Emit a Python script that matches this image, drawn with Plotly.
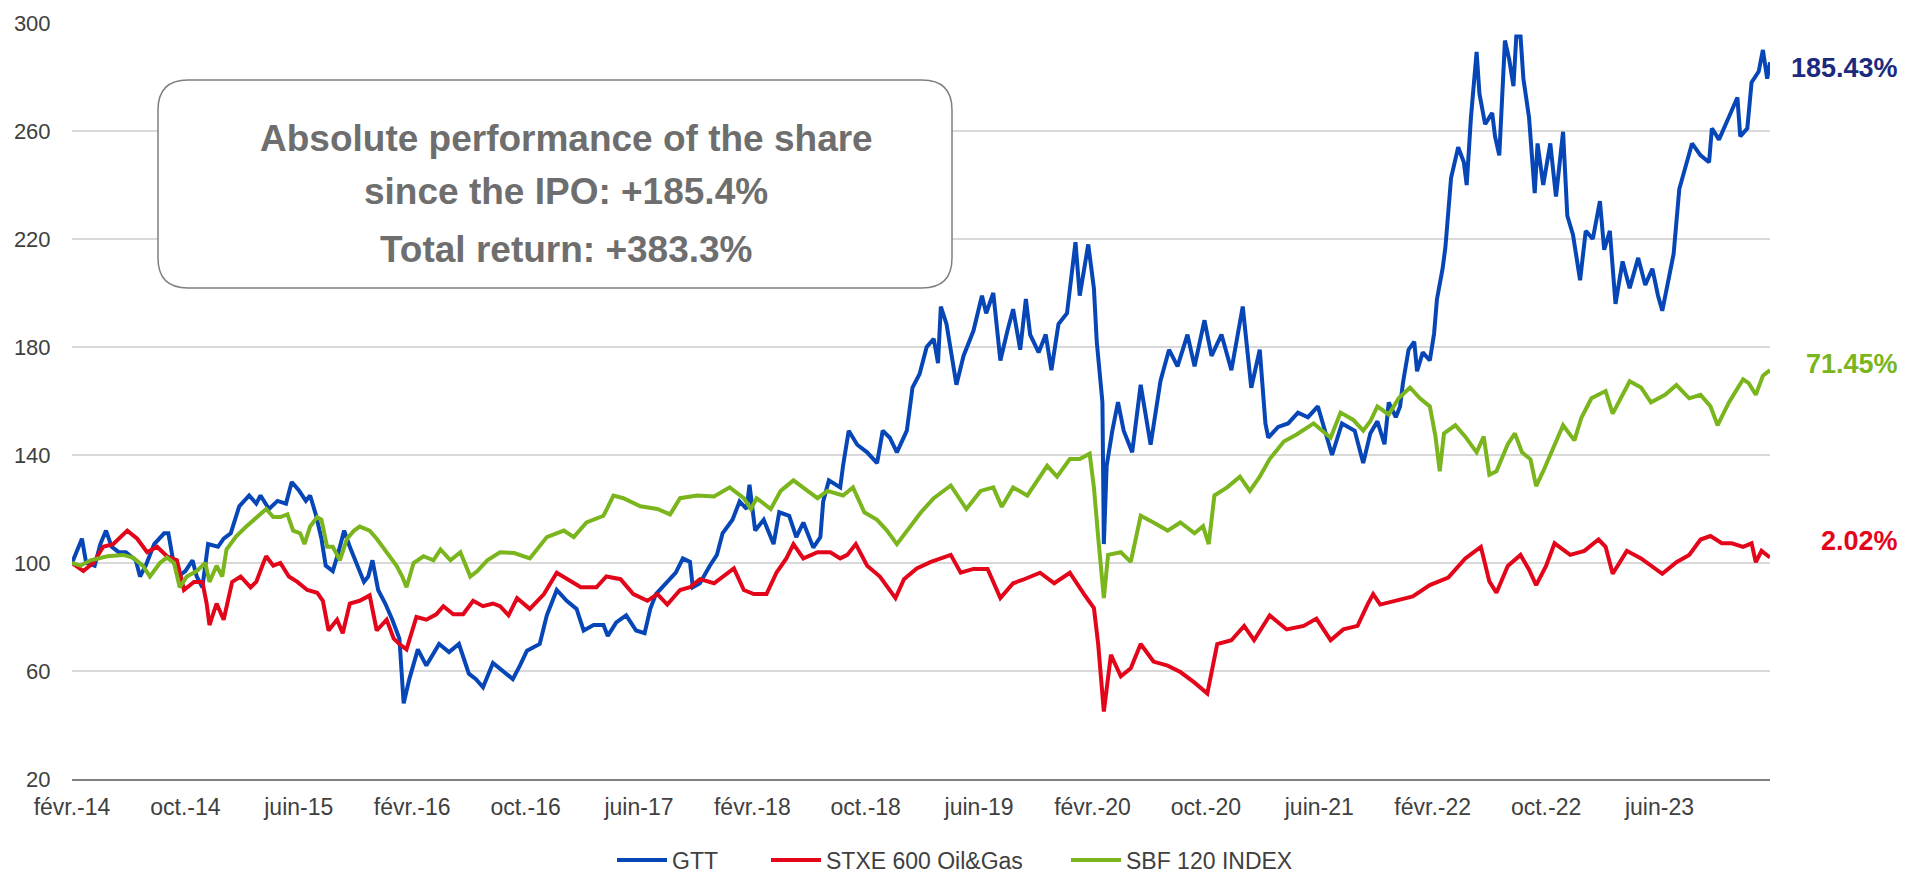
import plotly.graph_objects as go

# ---- axis ticks (months since IPO, 27 Feb 2014) ----
tick_months = [0, 8, 16, 24, 32, 40, 48, 56, 64, 72, 80, 88, 96, 104, 112]
tick_labels = ["févr.-14", "oct.-14", "juin-15", "févr.-16", "oct.-16", "juin-17",
               "févr.-18", "oct.-18", "juin-19", "févr.-20", "oct.-20", "juin-21",
               "févr.-22", "oct.-22", "juin-23"]

# ---- GTT (base 100) ----
gtt_m = [0, 0.7, 1.0, 1.6, 2.0, 2.4, 2.8, 3.3, 3.8, 4.5, 4.8, 5.2, 5.8, 6.5, 6.8, 7.1, 7.5, 8.0,
         8.5, 8.8, 9.2, 9.6, 10.3, 10.7, 11.2, 11.8, 12.5, 13.0, 13.3, 13.9, 14.5, 15.1, 15.5,
         16.0, 16.5, 16.8, 17.2, 17.6, 17.9, 18.4, 18.8, 19.2, 19.6, 20.1, 20.6, 20.9, 21.2,
         21.6, 22.1, 22.6, 23.1, 23.4, 23.8, 24.4, 25.0, 25.9, 26.6, 27.3, 28.0, 28.5, 29.0,
         29.7, 30.2, 31.1, 31.6, 32.1, 33.0, 33.5, 34.2, 34.9, 35.6, 36.1, 36.8, 37.5, 37.8,
         38.4, 39.1, 39.8, 40.4, 40.8, 41.2, 41.9, 42.6, 43.1, 43.6, 43.8, 44.3, 45.0, 45.5,
         45.9, 46.6, 47.1, 47.6, 47.8, 48.2, 48.8, 49.5, 49.9, 50.6, 51.1, 51.6, 52.3, 52.8,
         53.0, 53.4, 54.2, 54.4, 54.8, 55.4, 56.1, 56.8, 57.2, 57.7, 58.2, 58.9, 59.3, 59.8,
         60.3, 60.8, 61.1, 61.3, 61.7, 62.2, 62.4, 62.9, 63.6, 64.2, 64.5, 65.0, 65.5, 66.0,
         66.4, 66.9, 67.3, 67.6, 68.2, 68.7, 69.1, 69.6, 70.2, 70.8, 71.1, 71.7, 72.1, 72.3,
         72.7, 72.8, 73.0, 73.4, 73.8, 74.2, 74.8, 75.4, 76.1, 76.8, 77.4, 78.0, 78.7, 79.2,
         79.9, 80.4, 81.1, 81.8, 82.6, 83.2, 83.8, 84.2, 84.4, 85.1, 85.8, 86.5, 87.2, 87.9,
         88.9, 89.6, 90.5, 91.1, 91.6, 92.1, 92.6, 92.9, 93.4, 93.7, 93.9, 94.3, 94.7, 94.9,
         95.3, 95.8, 96.1, 96.3, 96.7, 96.9, 97.3, 97.8, 98.2, 98.4, 98.7, 99.1, 99.3, 99.7,
         100.2, 100.4, 100.7, 101.1, 101.4, 101.7, 101.9, 102.2, 102.4, 102.8, 103.2, 103.4,
         103.8, 104.3, 104.7, 105.2, 105.5, 105.9, 106.4, 106.8, 107.3, 107.8, 108.1, 108.5,
         108.9, 109.4, 109.9, 110.5, 111.0, 111.5, 111.9, 112.2, 112.6, 113.0, 113.4, 113.7,
         114.3, 114.9, 115.5, 115.7, 116.2, 116.8, 117.5, 117.7, 118.2, 118.5, 119.0, 119.3,
         119.6, 119.8]
gtt_v = [100, 109, 100, 99, 107, 112, 106, 104, 104, 101, 95, 99, 107, 111, 111, 102, 95, 97,
         101, 95, 91, 107, 106, 109, 111, 121, 125, 122, 125, 120, 123, 122, 130,
         127, 123, 125, 118, 109, 99, 97, 104, 112, 106, 99, 93, 95, 101,
         90, 85, 79, 72, 48, 57, 68, 62, 70, 67, 70, 59, 57, 54,
         63, 61, 57, 62, 67.5, 70, 80.6, 90, 86, 83, 75, 77, 77, 73,
         78, 80.6, 75, 74, 83, 88.5, 92.5, 96.4, 101.7, 100.4, 91, 92.5, 99, 103,
         111, 116, 122.8, 120, 129, 112, 116, 107, 118.8, 117.5, 109.6, 115, 105.7, 109.6,
         122.8, 130.6, 128, 136, 149, 143.8, 141, 137, 149, 146.4, 141, 149, 165, 170,
         180, 183, 174, 195, 188.5, 172.8, 166, 176.7, 186, 199, 192.5, 200, 175, 186,
         194, 179, 197.8, 184.6, 178, 184.6, 171.4, 188.5, 192.5, 218.8, 199, 218, 201.7, 182,
         159.6, 107, 136, 149, 159.6, 149, 141, 166, 143.8, 167.5, 179, 172.8, 184.6, 172.8,
         189.9, 176.7, 184.6, 171.4, 195, 164.9, 179, 151.7, 146.4, 150.4, 151.7, 155.7, 154, 158,
         140, 151.7, 149, 137, 148, 152.5, 144, 159.5, 154, 158, 166.6, 179, 182, 171,
         178, 175, 185, 197.6, 209, 217, 242.7, 254, 248.4, 240, 265, 289.3, 273.8, 262.5,
         266.7, 258, 251, 293.5, 286.5, 276.6, 295, 295, 279.4, 265, 237, 255.4,
         240, 255.4, 235.7, 259.7, 228.6, 221.6, 204.7, 223, 220, 234, 216, 223,
         196, 211.7, 201.8, 213, 203, 209, 199, 193.4, 204.7, 214.5, 238.5, 244,
         255.4, 251, 248.4, 261, 256.8, 264, 272.4, 258, 261, 278, 282, 290,
         279.4, 285.43]

# ---- STXE 600 Oil&Gas (base 100) ----
stxe_m = [0, 0.8, 1.5, 2.2, 2.9, 3.9, 4.6, 5.3, 6.0, 6.7, 7.4, 7.9, 8.6, 9.2, 9.5, 9.7, 10.2,
          10.7, 11.3, 11.9, 12.6, 13.0, 13.5, 13.7, 14.2, 14.7, 15.3, 15.9, 16.6, 17.3, 17.7,
          18.1, 18.7, 19.1, 19.6, 20.3, 21.0, 21.5, 22.2, 22.7, 23.1, 23.6, 24.3, 25.0, 25.7,
          26.2, 26.9, 27.6, 28.3, 29.0, 29.7, 30.2, 30.8, 31.4, 32.3, 33.3, 34.2, 34.9, 35.9,
          37.0, 37.7, 38.7, 39.6, 40.6, 41.3, 42.0, 42.9, 43.6, 44.3, 45.3, 46.7, 47.4, 48.1,
          49.0, 49.7, 50.4, 50.9, 51.6, 52.6, 53.5, 54.2, 54.7, 55.3, 56.1, 57.0, 58.1, 58.7,
          59.6, 60.6, 62.0, 62.7, 63.6, 64.6, 65.5, 66.4, 67.1, 68.3, 69.3, 70.4, 71.4, 72.1,
          72.4, 72.8, 73.3, 74.0, 74.7, 75.4, 76.3, 77.3, 78.2, 79.2, 80.1, 80.8, 81.8, 82.7,
          83.4, 84.5, 85.7, 86.9, 87.8, 88.8, 89.7, 90.7, 91.4, 91.8, 92.3, 93.5, 94.6, 95.8,
          97.1, 98.3, 99.4, 100.0, 100.5, 101.3, 102.2, 102.8, 103.3, 104.0, 104.6, 105.7,
          106.7, 107.7, 108.2, 108.7, 109.7, 110.7, 111.4, 112.2, 113.2, 114.1, 114.9, 115.6,
          116.4, 117.1, 117.9, 118.5, 118.8, 119.2, 119.8]
stxe_v = [100, 97, 100, 106, 107, 112, 109, 104, 106, 102.5, 101, 90, 93, 93, 85, 77, 85,
          79, 93, 95, 91, 93, 100, 102.5, 99, 100, 95, 93, 90, 89, 86,
          75, 79, 74, 85, 86, 88, 75, 79, 72, 70, 68, 80, 79, 81,
          84, 81, 81, 86, 84, 85, 84, 80.6, 87, 83, 88.5, 96.4, 94, 91,
          91, 95, 94, 88.5, 86, 88.5, 84.6, 90, 91, 94, 92.5, 98, 90, 88.5,
          88.5, 96.4, 101.7, 107, 101.7, 104, 104, 101.7, 103, 107, 99, 95, 87, 94,
          98, 100.4, 103, 96.4, 97.8, 97.8, 87, 92.5, 93.8, 96.4, 92.5, 96.4, 88.5, 83.3,
          70, 45, 66, 58, 61, 70, 63.5, 62, 59.6, 55.7, 51.7, 70, 71.4, 76.7,
          71.4, 80.6, 75.4, 76.7, 79.4, 71.4, 75.4, 76.7, 84.6, 88.5, 84.6, 86, 87.6, 91.8,
          94.6, 101.7, 106, 93.2, 89, 98.9, 103, 97.5, 91.8, 98.9, 107.3, 103,
          104.5, 108.7, 106, 96, 104.5, 101.7, 98.9, 96, 100.3, 103, 108.7, 110,
          107.3, 107.3, 106, 107.3, 100.3, 104.5, 102.02]

# ---- SBF 120 INDEX (base 100) ----
sbf_m = [0, 0.6, 1.3, 2.5, 3.6, 4.3, 5.0, 5.5, 6.2, 6.7, 7.2, 7.6, 8.1, 8.8, 9.4, 9.7, 10.2,
         10.6, 10.9, 11.6, 12.3, 13.0, 13.7, 14.2, 14.7, 15.2, 15.6, 16.1, 16.4, 16.8, 17.3,
         17.6, 18.0, 18.4, 18.9, 19.4, 19.9, 20.3, 21.0, 21.5, 22.2, 22.9, 23.3, 23.6, 24.1,
         24.8, 25.5, 26.0, 26.7, 27.4, 28.1, 28.6, 29.3, 30.2, 31.2, 32.3, 33.5, 34.7, 35.4,
         36.3, 37.5, 38.2, 38.9, 40.1, 41.3, 42.2, 42.9, 44.1, 45.3, 46.4, 47.4, 47.9, 48.3,
         49.3, 50.0, 50.9, 51.9, 52.6, 53.3, 54.4, 55.1, 55.9, 56.8, 57.5, 58.2, 58.9, 59.9,
         60.8, 62.0, 63.1, 64.1, 65.0, 65.6, 66.4, 67.4, 68.8, 69.5, 70.4, 71.1, 71.8, 72.1,
         72.4, 72.8, 73.1, 74.0, 74.7, 75.4, 76.3, 77.3, 78.2, 79.2, 79.8, 80.2, 80.6, 81.5,
         82.4, 83.1, 83.8, 84.5, 85.5, 86.4, 87.6, 88.8, 89.5, 90.4, 91.1, 91.6, 92.1, 92.9,
         93.6, 94.4, 95.1, 95.8, 96.2, 96.5, 96.8, 97.6, 98.3, 99.1, 99.6, 100.0, 100.5,
         101.3, 101.8, 102.3, 102.9, 103.3, 103.8, 104.5, 105.2, 106.0, 106.5, 107.2, 108.2,
         108.7, 109.4, 109.9, 110.7, 111.4, 112.4, 113.2, 114.1, 114.9, 115.6, 116.1, 116.9,
         117.9, 118.3, 118.8, 119.3, 119.8]
sbf_v = [100, 99, 101, 102.5, 103, 102, 99, 95, 100, 102, 100, 91, 95, 97, 100, 93, 99,
         95, 105, 110, 113.5, 117, 120, 117, 117, 118, 112, 111, 107, 113.5, 117,
         116, 106, 106, 101, 109, 112, 113.5, 112, 109, 104, 99, 95, 91, 100,
         102.5, 101, 105, 101, 104, 95, 97, 101, 104, 103.7, 101.7, 109.6, 112, 109.6,
         115, 117.5, 125, 124, 121, 120, 118, 124, 125, 124.6, 128, 124, 120, 124,
         120, 126.7, 130.6, 126.7, 124, 126.7, 125, 128, 118.8, 116, 112, 107, 112, 118.8,
         124, 128.7, 120, 126.7, 128, 120.8, 128, 125, 136, 132, 138.5, 138.5, 140.5, 128,
         109.6, 87, 103, 104, 100.4, 117.5, 115, 112, 115, 111, 113.6, 107, 125, 128,
         132, 126.7, 132, 138.5, 145, 147.6, 151.7, 146.4, 155.7, 153, 149, 152.5, 158, 155,
         161, 165, 161, 158, 146.8, 134, 148, 151, 146.8, 141, 146.8, 132.7, 134,
         144, 148, 141, 138.4, 128.5, 134, 142.6, 151, 145.4, 153.9, 161, 163.7,
         155.3, 162.3, 167.3, 165, 159.5, 162.3, 165.9, 161, 162.3, 158, 151, 159.5,
         168, 166.6, 162.3, 169.4, 171.45]

series_names = ["GTT", "STXE 600 Oil&Gas", "SBF 120 INDEX"]
series_colors = ["#0646B6", "#E3061B", "#7AB51D"]
legend_ids = ["legend", "legend2", "legend3"]
legend_left_px = [612, 766, 1066]
end_labels = ["185.43%", "2.02%", "71.45%"]
end_label_colors = ["#1C2A7E", "#E3061B", "#7AB51D"]
end_label_y = [283.5, 108, 173.6]

box_lines = ["Absolute performance of the share", "since the IPO: +185.4%", "Total return: +383.3%"]

FONT = "Liberation Sans, Arial, sans-serif"

fig = go.Figure()
for name, color, lg, xm, yv in zip(series_names, series_colors, legend_ids,
                                   [gtt_m, stxe_m, sbf_m], [gtt_v, stxe_v, sbf_v]):
    fig.add_trace(go.Scatter(x=xm, y=yv, mode="lines", name=name, legend=lg,
                             line=dict(color=color, width=4)))

# plot area geometry (pixels)
L, R, T, B = 72, 139, 23, 95
W, H = 1909, 874
pw, ph = W - L - R, H - T - B

def px_x(p):
    return (p - L) / pw

def px_y(p):
    return (H - B - p) / ph

x0, x1 = px_x(158), px_x(952)
y1, y0 = px_y(80), px_y(288)
rx, ry = 30 / pw, 30 / ph
path = (f"M {x0+rx},{y1} L {x1-rx},{y1} Q {x1},{y1} {x1},{y1-ry} "
        f"L {x1},{y0+ry} Q {x1},{y0} {x1-rx},{y0} L {x0+rx},{y0} "
        f"Q {x0},{y0} {x0},{y0+ry} L {x0},{y1-ry} Q {x0},{y1} {x0+rx},{y1} Z")
fig.add_shape(type="path", path=path, xref="paper", yref="paper",
              line=dict(color="#7F7F7F", width=1.5), fillcolor="white", layer="above")

for txt, py in zip(box_lines, [138, 191, 249]):
    fig.add_annotation(x=px_x(566), y=px_y(py), xref="paper", yref="paper",
                       text=f"<b>{txt}</b>", showarrow=False, xanchor="center", yanchor="middle",
                       font=dict(family=FONT, size=37, color="#6E6E6E"))

for txt, col, yy in zip(end_labels, end_label_colors, end_label_y):
    fig.add_annotation(x=px_x(1900), y=yy, xref="paper", yref="y",
                       text=f"<b>{txt}</b>", showarrow=False, xanchor="right", yanchor="middle",
                       font=dict(family=FONT, size=27, color=col))

legend_layouts = {}
for lg, lx in zip(legend_ids, legend_left_px):
    legend_layouts[lg] = dict(orientation="h", x=px_x(lx), xanchor="left",
                              y=px_y(860), yanchor="middle", itemwidth=50,
                              font=dict(family=FONT, size=23, color="#404040"),
                              bgcolor="rgba(0,0,0,0)")

fig.update_layout(
    width=W, height=H,
    margin=dict(l=L, r=R, t=T, b=B, pad=0, autoexpand=False),
    paper_bgcolor="white", plot_bgcolor="white",
    font=dict(family=FONT, size=23, color="#404040"),
    showlegend=True,
    xaxis=dict(range=[0, 119.8], tickmode="array", tickvals=tick_months, ticktext=tick_labels,
               showgrid=False, zeroline=False, showline=True, linecolor="#7F7F7F", linewidth=2,
               ticks="", ticklabelstandoff=6, tickfont=dict(size=23), automargin=False),
    yaxis=dict(range=[20, 300], tick0=20, dtick=40, showgrid=True, gridcolor="#D9D9D9",
               gridwidth=1.5, zeroline=False, showline=False,
               ticks="outside", ticklen=16, tickcolor="rgba(0,0,0,0)", ticklabelstandoff=0,
               tickfont=dict(size=22), automargin=False),
    hovermode=False,
    **legend_layouts,
)

fig.write_html("out.html", config={"displayModeBar": False},
               post_script="document.body.style.margin='0';document.body.style.overflow='hidden';")
